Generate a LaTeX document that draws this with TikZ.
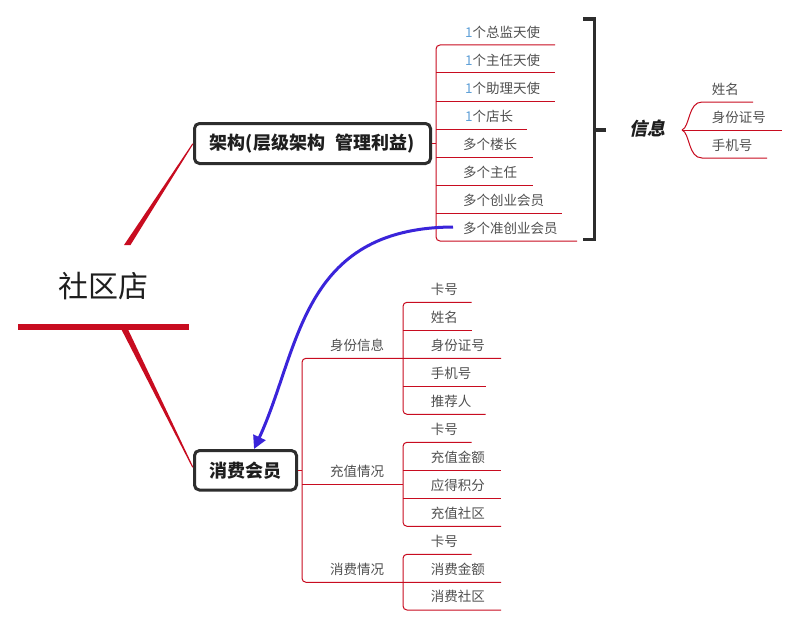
\documentclass[tikz,border=0pt]{standalone}
\usepackage{fontspec}
\setmainfont{Noto Sans CJK SC}
\newfontfamily\cjkit[FakeSlant=0.22]{Noto Sans CJK SC}
\usetikzlibrary{arrows.meta,calc}
\definecolor{lnred}{RGB}{200,12,32}
\definecolor{boxgray}{RGB}{45,45,45}
\definecolor{txtgray}{RGB}{80,80,80}
\definecolor{txtdark}{RGB}{30,30,30}
\definecolor{oneblue}{RGB}{95,160,215}
\definecolor{arrblue}{RGB}{58,36,218}
\newcommand{\one}{{\color{oneblue}1}}
\tikzset{
  tree/.style={draw=lnred, line width=1pt},
  leaf/.style={anchor=west, inner sep=0pt, text=txtgray, font=\fontsize{13.5}{16}\selectfont},
  topicbox/.style={draw=boxgray, line width=3pt, rounded corners=5pt, fill=white, inner sep=0pt,
     text=txtdark, font=\fontsize{18}{22}\selectfont\bfseries},
  brk/.style={draw=boxgray, line width=3.5pt, line join=miter},
  arr/.style={draw=arrblue, line width=3pt, -{Triangle[length=13pt,width=13pt]}}
}
\begin{document}
\begin{tikzpicture}[x=1pt,y=-1pt]
\useasboundingbox (0,0) rectangle (798,626);
\fill[white] (0,0) rectangle (798,626);

% root
\node[inner sep=0pt, text=txtdark, font=\fontsize{30}{34}\selectfont] (root) at (103,286) {社区店};
\fill[lnred] (18,324) rectangle (189,330);

% main topics
\node[topicbox, minimum width=236pt, minimum height=40pt] (arch) at (312.5,143.5) {架构(层级架构\hspace{0.6em}管理利益)};
\node[topicbox, minimum width=102pt, minimum height=39.5pt] (msg) at (245.5,470.3) {消费会员};

% tapered root connectors
\fill[lnred] (124,245) -- (130.5,245) -- ($(arch.west)+(0.6,0)$) -- ($(arch.west)+(-0.6,0)$) -- cycle;
\fill[lnred] (121.7,330) -- (128.3,330) -- ($(msg.west)+(0.4,-3)$) -- ($(msg.west)+(-0.8,-3)$) -- cycle;

% ---- architecture branch ----
\draw[tree] (arch.east) -- (436,143.5);
\draw[tree, rounded corners=4pt] (555,45) -- (436,45) -- (436,241) -- (577,241);
\foreach \yy/\ee in {73/555,101/555,129/527,157/533,185/533,213/562}
  \draw[tree] (436,\yy) -- (\ee,\yy);

\node[leaf] (a1) at (465,32) {\one 个总监天使};
\node[leaf] (a2) at (465,60) {\one 个主任天使};
\node[leaf] (a3) at (465,88) {\one 个助理天使};
\node[leaf] (a4) at (465,116) {\one 个店长};
\node[leaf] (a5) at (463,144) {多个楼长};
\node[leaf] (a6) at (463,172) {多个主任};
\node[leaf] (a7) at (463,200) {多个创业会员};
\node[leaf] (a8) at (463,228) {多个准创业会员};

% bracket
\draw[brk] (583,19) -- (594.5,19) -- (594.5,239.5) -- (583,239.5);
\draw[brk] (594.5,130) -- (606,130);

% info
\node[inner sep=0pt, text=txtdark, font=\fontsize{18}{22}\selectfont\cjkit\bfseries] (info) at (647.5,128.5) {信息};
\draw[tree] (682,130) -- (782,130);
\draw[tree] (682,130) .. controls (690,127) and (688,102) .. (702,102) -- (753,102);
\draw[tree] (682,130) .. controls (690,133) and (688,158) .. (702,158) -- (767,158);
\node[leaf] (i1) at (711.7,89) {姓名};
\node[leaf] (i2) at (711.7,117) {身份证号};
\node[leaf] (i3) at (711.7,145) {手机号};

% ---- member branch ----
\draw[tree] (msg.east) -- (302,470.3);
\draw[tree, rounded corners=4pt] (501,358.3) -- (302,358.3) -- (302,582.3) -- (501,582.3);
\draw[tree] (302,484.3) -- (403,484.3);

\node[leaf] (b1) at (330,345) {身份信息};
\node[leaf] (b2) at (330,471) {充值情况};
\node[leaf] (b3) at (330,569) {消费情况};

% group 1
\draw[tree, rounded corners=4pt] (471.7,302.3) -- (403,302.3) -- (403,414.3) -- (485.7,414.3);
\draw[tree] (403,330.7) -- (471.7,330.7);
\draw[tree] (403,386.3) -- (485.7,386.3);
\node[leaf] (c1) at (430.7,289.3) {卡号};
\node[leaf] (c2) at (430.7,317.3) {姓名};
\node[leaf] (c3) at (430.7,345.3) {身份证号};
\node[leaf] (c4) at (430.7,373) {手机号};
\node[leaf] (c5) at (430.7,401) {推荐人};

% group 2
\draw[tree, rounded corners=4pt] (471.7,442.3) -- (403,442.3) -- (403,526.3) -- (501,526.3);
\draw[tree] (403,470.7) -- (501,470.7);
\draw[tree] (403,498.7) -- (501,498.7);
\node[leaf] (d1) at (430.7,429.3) {卡号};
\node[leaf] (d2) at (430.7,457.7) {充值金额};
\node[leaf] (d3) at (430.7,485.7) {应得积分};
\node[leaf] (d4) at (430.7,513.3) {充值社区};

% group 3
\draw[tree, rounded corners=4pt] (471.7,554.3) -- (403,554.3) -- (403,610) -- (501,610);
\node[leaf] (e1) at (430.7,541.7) {卡号};
\node[leaf] (e2) at (430.7,569) {消费金额};
\node[leaf] (e3) at (430.7,596.7) {消费社区};

% blue arrow
\draw[arr] ($(a8.west)+(-10,-1)$) .. controls (300,228) and (300,350) .. ($(msg.north)+(8.5,0)$);
\end{tikzpicture}
\end{document}
